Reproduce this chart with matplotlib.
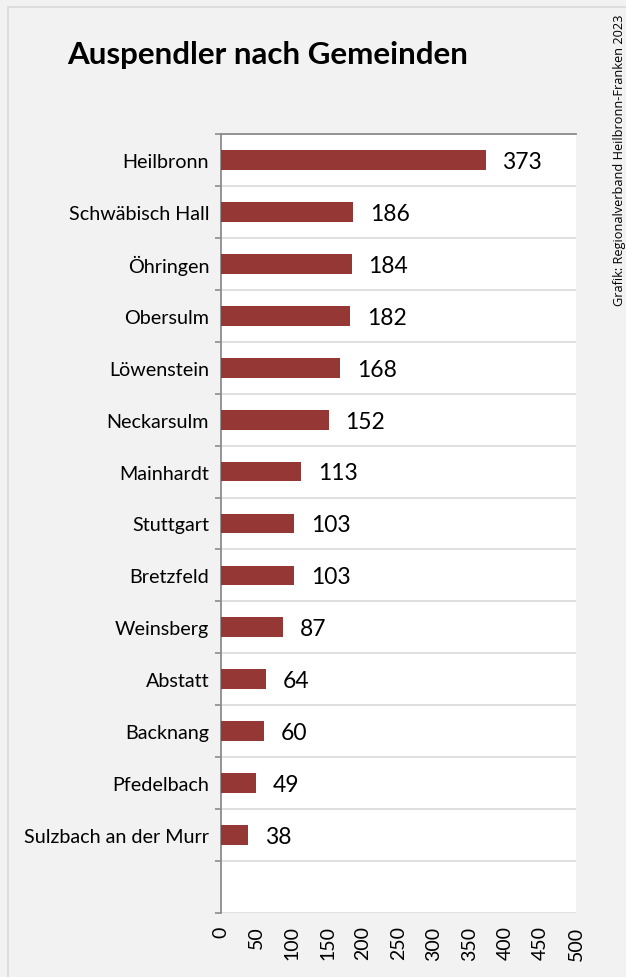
import matplotlib
matplotlib.use("Agg")
import matplotlib.pyplot as plt
from matplotlib.patches import Rectangle
import numpy as np

plt.rcParams['font.family'] = ['Lato', 'DejaVu Sans']

# data
gemeinden = ["Heilbronn", "Schwäbisch Hall", "Öhringen", "Obersulm", "Löwenstein",
             "Neckarsulm", "Mainhardt", "Stuttgart", "Bretzfeld", "Weinsberg",
             "Abstatt", "Backnang", "Pfedelbach", "Sulzbach an der Murr"]
auspendler = [373, 186, 184, 182, 168, 152, 113, 103, 103, 87, 64, 60, 49, 38]
x_ticks = [0, 50, 100, 150, 200, 250, 300, 350, 400, 450, 500]

title = "Auspendler nach Gemeinden"
quelle = "Grafik: Regionalverband Heilbronn-Franken 2023"

bar_color = "#953735"
grid_color = "#d9d9d9"
axis_color = "#8c8c8c"

fig = plt.figure(figsize=(6.26, 9.78), dpi=100)
fig.patch.set_facecolor("#f2f2f2")
# thin frame around the chart area
fig.patches.append(Rectangle((8 / 626, -0.1), 1.2, 1 - 8 / 978 + 0.1,
                             transform=fig.transFigure, fill=False,
                             edgecolor=grid_color, linewidth=1.2))

ax = fig.add_axes([221 / 626, 1 - 914 / 978, (576 - 221) / 626, (914 - 135) / 978])
ax.set_facecolor("white")

n_slots = len(gemeinden) + 1  # one empty slot below the last bar
y = np.arange(len(gemeinden))
ax.barh(y, auspendler, height=0.38, color=bar_color, zorder=3)

for yi, v in zip(y, auspendler):
    ax.annotate(str(v), (v, yi), xytext=(12, -1), textcoords="offset points",
                ha="left", va="center", fontsize=16.5, color="black")

ax.set_xlim(0, 500)
ax.set_ylim(n_slots - 0.5, -0.5)

# category boundaries: gridlines + left tick marks
bounds = np.arange(n_slots + 1) - 0.5
ax.set_yticks(bounds)
ax.set_yticklabels([])
ax.tick_params(axis="y", which="major", length=4.5, color=axis_color, width=1.2)
ax.set_yticks(y, minor=True)
ax.set_yticklabels(gemeinden, minor=True, fontsize=14.2)
ax.tick_params(axis="y", which="minor", length=0, pad=8.5)
ax.yaxis.grid(True, which="major", color=grid_color, linewidth=1.2, zorder=0)

ax.set_xticks(x_ticks)
ax.set_xticklabels([str(t) for t in x_ticks], rotation=90, fontsize=14)
ax.tick_params(axis="x", length=0, pad=9)

for s in ["right", "bottom"]:
    ax.spines[s].set_visible(False)
ax.spines["left"].set_color(axis_color)
ax.spines["left"].set_linewidth(1.3)
ax.spines["top"].set_color(axis_color)
ax.spines["top"].set_linewidth(1.3)

fig.text(268 / 626, 1 - 55 / 978, title, ha="center", va="center",
         fontsize=22.6, fontweight="bold")
fig.text(619 / 626, 1 - 14 / 978, quelle, rotation=90, ha="center", va="top",
         fontsize=9.2, family=["Open Sans", "DejaVu Sans"])

fig.savefig("out.png", dpi=100, facecolor=fig.get_facecolor())
